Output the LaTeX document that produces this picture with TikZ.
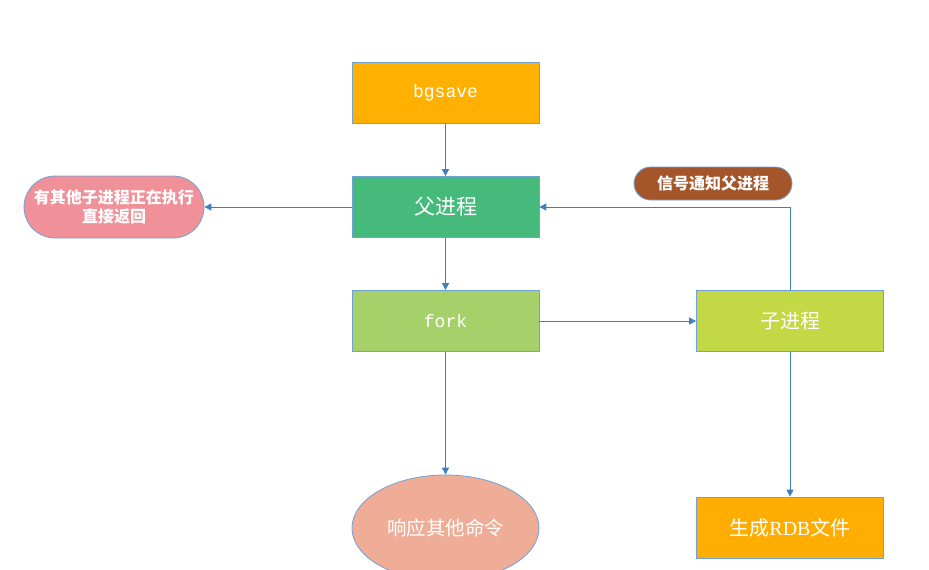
\documentclass[tikz,border=0pt]{standalone}
\usepackage{fontspec}
\newfontfamily\cjk{Noto Sans CJK SC}
\newfontfamily\lmono{Liberation Mono}
\newfontfamily\lserif{Liberation Serif}
\usetikzlibrary{arrows.meta,shapes.geometric}
\definecolor{edge}{HTML}{3F7FBF}
\definecolor{bord}{HTML}{6FA3D8}
\definecolor{cbg}{HTML}{FFB000}
\definecolor{cfu}{HTML}{46BA7B}
\definecolor{cfork}{HTML}{A6D06A}
\definecolor{czi}{HTML}{C2D844}
\definecolor{crdb}{HTML}{FFAD00}
\definecolor{cresp}{HTML}{EFAC96}
\definecolor{cret}{HTML}{F0919A}
\definecolor{csig}{HTML}{A5552A}
\tikzset{
  box/.style={draw=bord, line width=0.8pt, minimum width=187pt, minimum height=61pt, inner sep=0pt, text=white},
  pill/.style={draw=bord, line width=0.8pt, rounded corners=#1, inner sep=0pt, text=white},
  conn/.style={draw=edge, line width=0.9pt, -{Triangle[length=7pt,width=7pt]}}
}
\begin{document}
\begin{tikzpicture}[x=1pt,y=-1pt]
\useasboundingbox[fill=white] (0,0) rectangle (929,570);
\node[box, fill=cbg, font=\lmono\fontsize{18}{20}\selectfont] (bg) at (445.5,92.5) {bgsave};
\node[box, fill=cfu, font=\cjk\fontsize{21}{24}\selectfont] (fu) at (445.5,207) {父进程};
\node[box, fill=cfork, font=\lmono\fontsize{18}{20}\selectfont] (fork) at (445.5,321) {fork};
\node[box, fill=czi, font=\cjk\fontsize{20}{24}\selectfont] (zi) at (790,321) {子进程};
\node[box, fill=crdb, font=\cjk\fontsize{20}{24}\selectfont] (rdb) at (790,527.5) {生成{\lserif RDB}文件};
\node[draw=bord, line width=0.8pt, ellipse, fill=cresp, minimum width=187pt, minimum height=106pt, inner sep=0pt, text=white, font=\cjk\fontsize{19.5}{24}\selectfont] (resp) at (445.5,528) {响应其他命令};
\node[pill=31pt, fill=cret, minimum width=180pt, minimum height=62pt, align=center, font=\cjk\bfseries\fontsize{16}{18.5}\selectfont] (ret) at (114,207) {有其他子进程正在执行\\直接返回};
\node[pill=16.5pt, fill=csig, minimum width=158pt, minimum height=33pt, font=\cjk\bfseries\fontsize{16}{18}\selectfont] (sig) at (713,183.5) {信号通知父进程};
\draw[conn] (bg) -- (fu);
\draw[conn] (fu) -- (ret);
\draw[conn] (fu) -- (fork);
\draw[conn] (fork) -- (zi);
\draw[conn] (fork) -- (resp);
\draw[conn] (zi) -- (rdb);
\draw[conn] (zi.north) |- (fu.east);
\end{tikzpicture}
\end{document}
